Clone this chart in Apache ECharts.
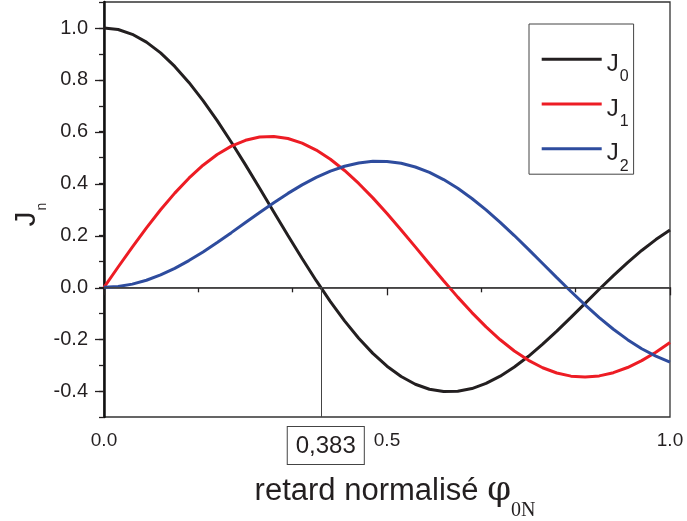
<!DOCTYPE html>
<html><head><meta charset="utf-8">
<script src="https://cdn.jsdelivr.net/npm/echarts@6/dist/echarts.min.js"></script>
<style>html,body{margin:0;padding:0;background:#fff}#c{width:687px;height:521px}</style>
</head><body><div id="c"></div>
<script>
const phi = [0,0.025,0.05,0.075,0.1,0.125,0.15,0.175,0.2,0.225,0.25,0.275,0.3,0.325,0.35,0.375,0.4,0.425,0.45,0.475,0.5,0.525,0.55,0.575,0.6,0.625,0.65,0.675,0.7,0.725,0.75,0.775,0.8,0.825,0.85,0.875,0.9,0.925,0.95,0.975,1.0];
const J0 = [1,0.99384,0.97548,0.94525,0.90371,0.85163,0.78996,0.71983,0.64251,0.55940,0.47200,0.38185,0.29057,0.19972,0.11086,0.02551,-0.05495,-0.12923,-0.19615,-0.25475,-0.30424,-0.34400,-0.37364,-0.39296,-0.40199,-0.40095,-0.39027,-0.37056,-0.34262,-0.30737,-0.26586,-0.21928,-0.16886,-0.11590,-0.06173,-0.00760,0.04519,0.09541,0.14199,0.18390,0.22081];
const J1 = [0,0.07830,0.15515,0.22914,0.29891,0.36319,0.42082,0.47077,0.51219,0.54438,0.56683,0.57922,0.58147,0.57367,0.55609,0.52925,0.49381,0.45054,0.40053,0.34482,0.28468,0.22115,0.15592,0.09010,0.02508,-0.03783,-0.09749,-0.15261,-0.20226,-0.24551,-0.28165,-0.31010,-0.33044,-0.34245,-0.34611,-0.34154,-0.32911,-0.30927,-0.28266,-0.25009,-0.21238];
const J2 = [0,0.00308,0.01224,0.02725,0.04774,0.07322,0.10304,0.13647,0.17267,0.21073,0.24970,0.28859,0.32640,0.36214,0.39488,0.42373,0.44791,0.46667,0.47946,0.48582,0.48547,0.47809,0.46388,0.44284,0.41529,0.38168,0.34253,0.29859,0.25065,0.19958,0.14632,0.09192,0.03738,-0.01623,-0.06788,-0.11665,-0.16159,-0.20183,-0.23670,-0.26555,-0.28841];
const seriesNames = ['J0','J1','J2'];
const seriesLabels = ['{J|J}{s|0}','{J|J}{s|1}','{J|J}{s|2}'];
const zeroPhi = 0.383;
const zeroLabel = '0,383';
const xLabels = {0:'0.0',0.5:'0.5',1:'1.0'};
const xName = 'retard normalisé ';

const txt = '#231f20';
const font = 'Liberation Sans, Arial, sans-serif';
const serif = 'Liberation Serif, Times New Roman, serif';
const colors = ['#231f20','#ed1c24','#2e4c9e'];
const pairs = a => phi.map((p,i)=>[p,a[i]]);

const chart = echarts.init(document.getElementById('c'), null, {renderer:'canvas'});
const lineSeries = [J0,J1,J2].map((arr,i)=>({
  name: seriesNames[i], type:'line', data: pairs(arr), smooth:false, symbol:'none',
  xAxisIndex:0, yAxisIndex:0,
  lineStyle:{color:colors[i], width:3}, itemStyle:{color:colors[i]}, z:3
}));
lineSeries[0].markLine = {
  silent:true, symbol:'none', animation:false,
  data:[
    {yAxis:0, lineStyle:{color:'#444', width:1, type:'solid'}, label:{show:false}},
    [{coord:[zeroPhi,0]},{coord:[zeroPhi,-0.5],
      label:{show:true, position:'end', formatter:zeroLabel, fontSize:24, fontFamily:font, color:txt,
        borderColor:'#444', borderWidth:1, padding:[7,8,6,8], backgroundColor:'#fff', distance:10, offset:[5,0]}}]
  ],
  lineStyle:{color:'#444', width:1, type:'solid'},
  label:{show:false}
};
chart.setOption({
  animation:false,
  backgroundColor:'#fff',
  grid:[
    {left:104, right:17, top:2, bottom:104, show:true, borderColor:'#333', borderWidth:1.3, containLabel:false, outerBoundsMode:'none'},
    {left:104, right:17, top:28, bottom:129.3, containLabel:false, outerBoundsMode:'none'}
  ],
  legend:{
    data: seriesNames, orient:'vertical', left:529, top:24,
    padding:[9.8,5,0,12.7], itemGap:-6.3, itemWidth:60, itemHeight:3, icon:'rect',
    borderColor:'#444', borderWidth:1, backgroundColor:'#fff',
    formatter: n => seriesLabels[seriesNames.indexOf(n)],
    textStyle:{color:txt, fontFamily:font,
      rich:{J:{fontSize:24, lineHeight:24, fontFamily:font, color:txt, padding:[9.8,0,0,0]},
            s:{fontSize:16, lineHeight:12, fontFamily:font, color:txt, padding:[35,0,0,1]}}}
  },
  xAxis:[
    {gridIndex:0, type:'value', min:0, max:1, interval:0.5,
      axisLine:{show:true, lineStyle:{color:txt, width:1.6}},
      axisTick:{show:true, length:8, lineStyle:{color:txt, width:1.3}},
      minorTick:{show:true, splitNumber:3, length:5, lineStyle:{color:txt, width:1.3}},
      splitLine:{show:false},
      axisLabel:{margin:14, fontSize:19, fontFamily:font, color:txt, formatter:v=>xLabels[v]!==undefined?xLabels[v]:''},
      name: '{a|'+xName+'}{p|φ}{s|0N}', nameLocation:'middle', nameGap:57, nameMoveOverlap:false,
      nameTextStyle:{padding:[0,0,0,16], rich:{
        a:{fontSize:31, lineHeight:31, fontFamily:font, color:txt},
        p:{fontSize:34, lineHeight:34, fontFamily:'DejaVu Serif, serif', color:txt},
        s:{fontSize:20, lineHeight:20, fontFamily:serif, color:txt, padding:[40,0,0,0]}}}
    },
    {gridIndex:1, type:'value', min:0, max:1, show:false}
  ],
  yAxis:[
    {gridIndex:0, type:'value', min:-0.5, max:1.1, interval:0.1,
      axisLine:{show:true, lineStyle:{color:'#111', width:2.5}},
      axisTick:{show:true, length:5, lineStyle:{color:txt, width:1.3}},
      axisLabel:{show:false}, splitLine:{show:false},
      name:'{J|J}{n|n}', nameLocation:'middle', nameRotate:90, nameGap:62, nameMoveOverlap:false,
      nameTextStyle:{padding:[0,10,0,0], rich:{J:{fontSize:30, lineHeight:30, fontFamily:font, color:txt},
                           n:{fontSize:14, lineHeight:14, fontFamily:font, color:txt, padding:[31,0,0,1]}}}
    },
    {gridIndex:1, type:'value', min:-0.4, max:1.0, interval:0.2,
      axisLine:{show:false},
      axisTick:{show:true, length:9, lineStyle:{color:txt, width:1.3}},
      splitLine:{show:false},
      axisLabel:{margin:16, fontSize:20, fontFamily:font, color:txt, formatter:v=>v.toFixed(1)}
    }
  ],
  series: lineSeries
});
</script></body></html>
